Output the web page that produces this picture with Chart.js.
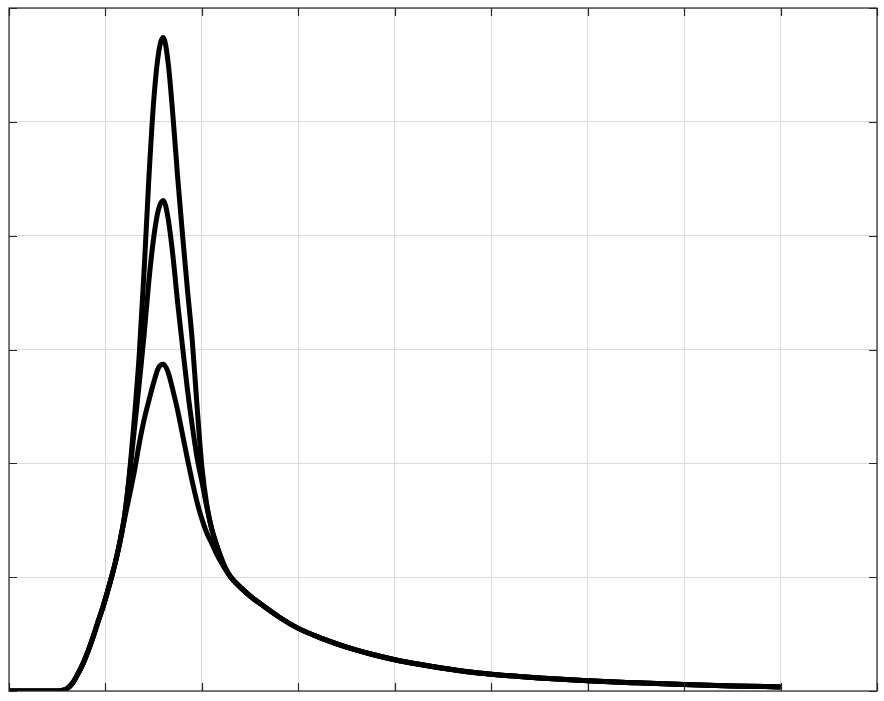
<!DOCTYPE html>
<html>
<head>
<meta charset="utf-8">
<script src="https://cdn.jsdelivr.net/npm/chart.js@4/dist/chart.umd.min.js"></script>
<style>
  body { margin: 0; background: #ffffff; }
  #wrap { width: 884px; height: 701px; }
</style>
</head>
<body>
<div id="wrap"><canvas id="plot" width="884" height="701"></canvas></div>
<script>
// x positions shared by all three curves
var xs = [0, 0.5, 0.55, 0.6, 0.66, 0.72, 0.77, 0.82, 0.87, 0.92, 0.975, 1.05, 1.1, 1.15,
  1.2, 1.25, 1.3, 1.35, 1.4, 1.45, 1.5, 1.55, 1.6, 1.65, 1.7, 1.75, 1.8, 1.85, 1.9, 1.95,
  2.0, 2.05, 2.1, 2.15, 2.2, 2.25, 2.3, 2.4, 2.5, 2.6, 2.8, 3.0, 3.25, 3.5, 3.75, 4.0, 4.25,
  4.5, 4.75, 5.0, 5.5, 6.0, 6.5, 7.0, 7.5, 8.0];

// tallest peak
var highCurve = [0, 0, 0.005, 0.02, 0.07, 0.16, 0.245, 0.35, 0.47, 0.6, 0.74, 0.96, 1.12, 1.31,
  1.55, 1.92, 2.4, 2.95, 3.68, 4.5, 5.18, 5.6, 5.74, 5.52, 5.05, 4.5, 4.0, 3.53, 3.08, 2.5,
  1.97, 1.64, 1.43, 1.29, 1.17, 1.07, 1.0, 0.91, 0.835, 0.77, 0.65, 0.55, 0.46, 0.385, 0.325, 0.275, 0.235,
  0.2, 0.17, 0.148, 0.115, 0.09, 0.072, 0.057, 0.045, 0.036];

// middle peak
var midCurve = [0, 0, 0.005, 0.02, 0.07, 0.16, 0.245, 0.35, 0.47, 0.6, 0.74, 0.96, 1.12, 1.31,
  1.55, 1.9, 2.3, 2.7, 3.12, 3.6, 3.98, 4.23, 4.31, 4.15, 3.82, 3.4, 3.02, 2.65, 2.33, 2.05,
  1.84, 1.62, 1.43, 1.29, 1.17, 1.07, 1.0, 0.91, 0.835, 0.77, 0.65, 0.55, 0.46, 0.385, 0.325, 0.275, 0.235,
  0.2, 0.17, 0.148, 0.115, 0.09, 0.072, 0.057, 0.045, 0.036];

// lowest peak
var lowCurve = [0, 0, 0.005, 0.02, 0.07, 0.16, 0.245, 0.35, 0.47, 0.6, 0.74, 0.96, 1.12, 1.31,
  1.52, 1.72, 1.93, 2.17, 2.38, 2.55, 2.71, 2.84, 2.87, 2.8, 2.64, 2.46, 2.25, 2.04, 1.84, 1.66,
  1.51, 1.39, 1.3, 1.21, 1.13, 1.06, 1.0, 0.91, 0.835, 0.77, 0.65, 0.55, 0.46, 0.385, 0.325, 0.275, 0.235,
  0.2, 0.17, 0.148, 0.115, 0.09, 0.072, 0.057, 0.045, 0.036];

function toPoints(ys) {
  return xs.map(function(x, i) { return { x: x, y: ys[i] }; });
}

function makeSet(ys) {
  return {
    data: toPoints(ys),
    borderColor: '#000000',
    borderWidth: 5,
    pointRadius: 0,
    fill: false,
    cubicInterpolationMode: 'monotone'
  };
}

// box outline + inward tick marks on all four sides
var boxPlugin = {
  id: 'box',
  afterDraw: function(chart) {
    var ctx = chart.ctx;
    var a = chart.chartArea;
    var len = 8;
    ctx.save();
    ctx.strokeStyle = '#262626';
    ctx.lineWidth = 1.2;
    ctx.strokeRect(a.left, a.top, a.right - a.left, a.bottom - a.top);
    ctx.beginPath();
    chart.scales.x.ticks.forEach(function(t) {
      var px = Math.round(chart.scales.x.getPixelForValue(t.value)) + 0.5;
      ctx.moveTo(px, a.bottom); ctx.lineTo(px, a.bottom - len);
      ctx.moveTo(px, a.top); ctx.lineTo(px, a.top + len);
    });
    chart.scales.y.ticks.forEach(function(t) {
      var py = Math.round(chart.scales.y.getPixelForValue(t.value)) + 0.5;
      ctx.moveTo(a.left, py); ctx.lineTo(a.left + len, py);
      ctx.moveTo(a.right, py); ctx.lineTo(a.right - len, py);
    });
    ctx.stroke();
    ctx.restore();
  }
};

var ctx = document.getElementById('plot').getContext('2d');
new Chart(ctx, {
  type: 'line',
  data: {
    datasets: [makeSet(highCurve), makeSet(midCurve), makeSet(lowCurve)]
  },
  options: {
    responsive: false,
    animation: false,
    layout: { padding: { left: 9, top: 8, right: 7, bottom: 10 } },
    plugins: {
      legend: { display: false },
      tooltip: { enabled: false }
    },
    scales: {
      x: {
        type: 'linear',
        min: 0,
        max: 9,
        ticks: { display: false, stepSize: 1 },
        grid: { color: '#dadada', lineWidth: 1, drawTicks: false },
        border: { display: false }
      },
      y: {
        min: 0,
        max: 6,
        ticks: { display: false, stepSize: 1 },
        grid: { color: '#dadada', lineWidth: 1, drawTicks: false },
        border: { display: false }
      }
    }
  },
  plugins: [boxPlugin]
});
</script>
</body>
</html>
